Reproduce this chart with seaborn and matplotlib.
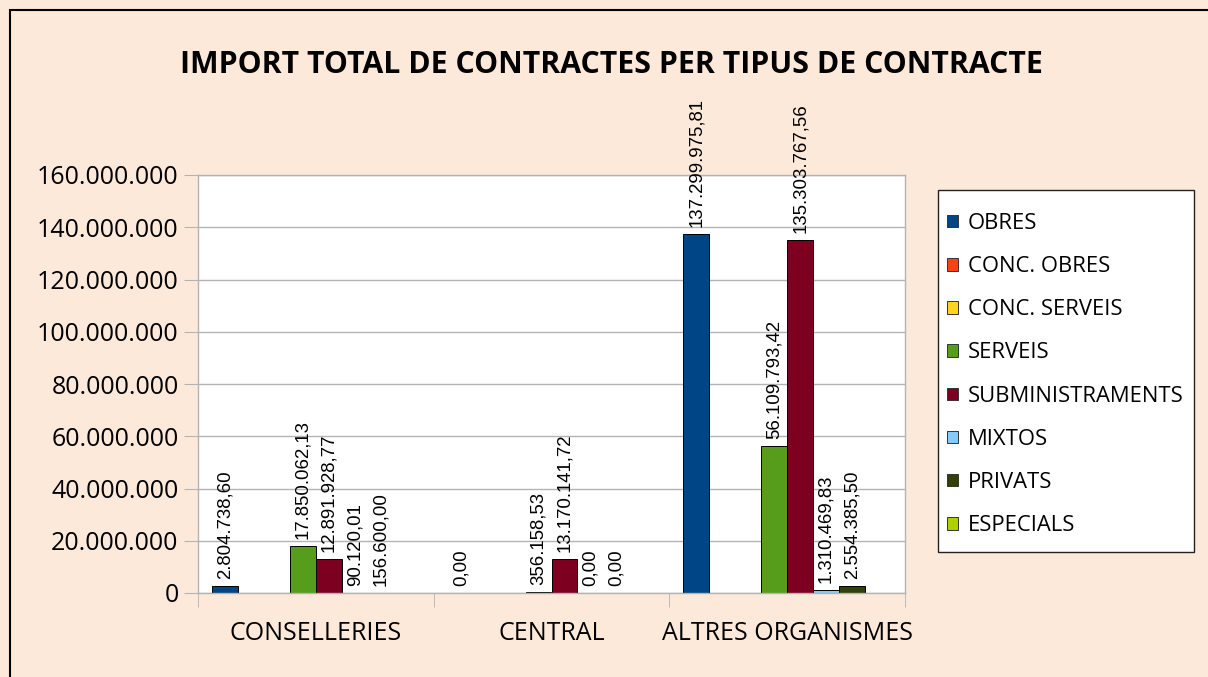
import pandas as pd
import numpy as np
import matplotlib
matplotlib.use("Agg")
import matplotlib.pyplot as plt
import seaborn as sns
from matplotlib.patches import Rectangle

# data
categories = ["CONSELLERIES", "CENTRAL", "ALTRES ORGANISMES"]
series = ["OBRES", "CONC. OBRES", "CONC. SERVEIS", "SERVEIS",
          "SUBMINISTRAMENTS", "MIXTOS", "PRIVATS", "ESPECIALS"]
obres = [2804738.60, 0.00, 137299975.81]
conc_obres = [np.nan, np.nan, np.nan]
conc_serveis = [np.nan, np.nan, np.nan]
serveis = [17850062.13, 356158.53, 56109793.42]
subministraments = [12891928.77, 13170141.72, 135303767.56]
mixtos = [90120.01, 0.00, 1310469.83]
privats = [156600.00, 0.00, 2554385.50]
especials = [np.nan, np.nan, np.nan]
colors = ["#004586", "#ff420e", "#ffd320", "#579d1c",
          "#7e0021", "#83caff", "#314004", "#aecf00"]

values = [obres, conc_obres, conc_serveis, serveis,
          subministraments, mixtos, privats, especials]
rows = []
for s, vals in zip(series, values):
    for c, v in zip(categories, vals):
        rows.append({"cat": c, "tipus": s, "import": v})
df = pd.DataFrame(rows)
plot_df = df.dropna()

bg = "#fde9d9"
W, H = 1208, 677
fig = plt.figure(figsize=(W / 100, H / 100), dpi=100, facecolor=bg)
ax = fig.add_axes([198 / W, 1 - 593 / H, (905 - 198) / W, (593 - 175) / H])
ax.set_facecolor("white")

sns.barplot(data=plot_df, x="cat", y="import", hue="tipus", order=categories,
            hue_order=series, palette=dict(zip(series, colors)), saturation=1,
            width=0.88, edgecolor="black", linewidth=0.7, errorbar=None,
            legend=False, ax=ax)


def fmt(v):
    s = f"{v:,.2f}"
    return s.replace(",", "X").replace(".", ",").replace("X", ".")


# data labels
for cont in ax.containers:
    for bar in cont:
        h = bar.get_height()
        if np.isnan(h):
            continue
        xc = bar.get_x() + bar.get_width() / 2
        ax.annotate(fmt(h), (xc, h), xytext=(0, 5), textcoords="offset points",
                    rotation=90, ha="center", va="bottom", fontsize=13.4,
                    family="Liberation Sans", color="black", clip_on=False)

ax.set_ylim(0, 160000000)
ax.set_xlim(-0.5, 2.5)
ax.set_yticks(np.arange(0, 160000001, 20000000))
ax.set_yticklabels([fmt(t)[:-3] for t in np.arange(0, 160000001, 20000000)],
                   fontsize=18, family="Open Sans")
ax.set_xticklabels(categories, fontsize=18, family="Open Sans")
ax.set_xticks([-0.5, 0.5, 1.5, 2.5], minor=True)
ax.tick_params(axis="x", which="major", length=0, pad=20)
ax.tick_params(axis="x", which="minor", length=10, color="#b3b3b3")
ax.tick_params(axis="y", length=10, color="#b3b3b3", pad=4)
ax.grid(axis="y", color="#b3b3b3", linewidth=1)
ax.set_axisbelow(True)
for sp in ax.spines.values():
    sp.set_color("#b3b3b3")
    sp.set_linewidth(1)
ax.set_xlabel("")
ax.set_ylabel("")

# legend box
fig.patches.append(Rectangle((938 / W, 1 - 552 / H), (1194 - 938) / W, (552 - 190) / H,
                             transform=fig.transFigure, facecolor="white",
                             edgecolor="#222222", linewidth=1, zorder=1))
handles = [Rectangle((0, 0), 1, 1, facecolor=c, edgecolor="#333333", linewidth=0.7)
           for c in colors]
leg = fig.legend(handles, series, loc="upper left",
                 bbox_to_anchor=(947 / W, 1 - 213 / H),
                 prop={"family": "Open Sans", "size": 15.8},
                 handlelength=0.5, handleheight=0.5, handletextpad=0.45,
                 labelspacing=1.01, borderpad=0, borderaxespad=0,
                 frameon=False)
leg.set_zorder(3)

fig.text(611 / W, 1 - 65 / H, "IMPORT TOTAL DE CONTRACTES PER TIPUS DE CONTRACTE",
         ha="center", va="center", fontsize=21.8, fontweight="bold", family="Open Sans")

# outer border
fig.patches.append(Rectangle((10 / W, -0.1), 1.2, 1.1 - 10 / H,
                             transform=fig.transFigure, fill=False,
                             edgecolor="black", linewidth=1.5))

fig.savefig("out.png", dpi=100, facecolor=bg)
